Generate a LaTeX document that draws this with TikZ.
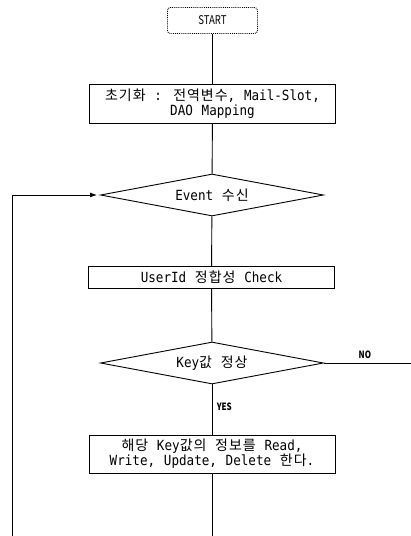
\documentclass[tikz,border=0pt]{standalone}
\usepackage{fontspec}
\setmainfont{DejaVu Sans Mono}[FakeStretch=0.9,WordSpace=1.15]
\newfontfamily\krfont{Noto Sans CJK KR}[LetterSpace=7]
\newfontfamily\narrowfont{Noto Sans CJK KR}[FakeStretch=0.8]
\newcommand\hangul[1]{{\krfont #1}}
\usetikzlibrary{shapes.geometric,arrows.meta}
\begin{document}
\begin{tikzpicture}[x=1pt,y=-1pt,
  line width=0.9pt,
  every node/.style={font=\fontsize{14}{15}\selectfont},
  procbox/.style={draw,rectangle,minimum width=246pt,inner sep=0pt,align=center},
  startbox/.style={draw,densely dotted,rounded corners=3pt,minimum width=90pt,minimum height=26pt,inner sep=0pt,font=\narrowfont\fontsize{12}{14}\selectfont},
  decision/.style={draw,diamond,aspect=5.3,minimum width=223pt,minimum height=42pt,inner sep=0pt},
  flag/.style={font=\narrowfont\bfseries\fontsize{10}{12}\selectfont}]
\useasboundingbox (0,0) rectangle (411,536);

\node[startbox] (start) at (212.5,20.5) {START};
\node[procbox,minimum height=39pt] (init) at (212.5,103.5)
  {\hangul{초기화} : \hangul{전역변수}, Mail-Slot,\\DAO Mapping};
\node[decision] (event) at (212,195) {Event \hangul{수신}};
\node[procbox,minimum height=22pt] (uid) at (211.5,277.5) {UserId \hangul{정합성} Check};
\node[decision] (key) at (212,363) {Key\hangul{값} \hangul{정상}};
\node[procbox,minimum height=38pt] (rw) at (212,454)
  {\hangul{해당} Key\hangul{값의} \hangul{정보를} Read,\\Write, Update, Delete \hangul{한다}.};

\coordinate (bottom) at (212,536);
\coordinate (loopbot) at (12,536);
\coordinate (loopturn) at (12,195);
\coordinate (noend) at (411,363);

\draw (start) -- (init);
\draw (init) -- (event);
\draw (event) -- (uid);
\draw (uid) -- (key);
\draw (key) -- node[flag,right,pos=0.45,xshift=1pt] {YES} (rw);
\draw (rw) -- (bottom);
\draw (key.east) -- node[flag,above,pos=0.47,yshift=1pt] {NO} (noend);
\draw[-{Latex[length=7pt,width=5pt]}] (loopbot) -- (loopturn) -- ([xshift=-3pt]event.west);
\end{tikzpicture}
\end{document}
